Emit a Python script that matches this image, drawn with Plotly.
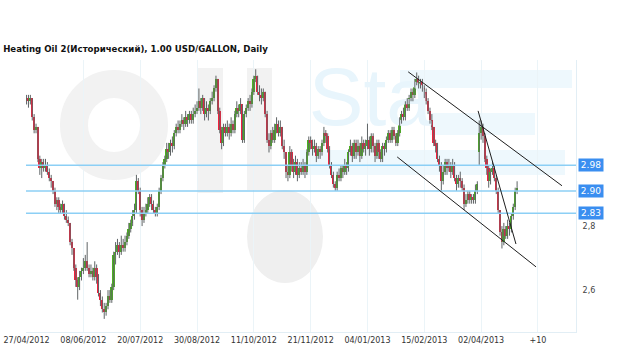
import plotly.graph_objects as go

TITLE = "Heating Oil 2(Исторический), 1.00 USD/GALLON, Daily"
TICK_POS = [0, 30, 60, 90, 120, 150, 180, 210, 240, 270]
TICK_LABELS = ["27/04/2012", "08/06/2012", "20/07/2012", "30/08/2012", "11/10/2012",
               "21/11/2012", "04/01/2013", "15/02/2013", "02/04/2013", "+10"]
Y_TICKS = [2.6, 2.8]
Y_TICK_LABELS = ["2,6", "2,8"]

OPEN = [3.18,3.19,3.18,3.19,3.13,3.09,3.10,3.00,2.97,2.99,
        2.97,2.98,2.96,2.94,2.93,2.90,2.86,2.87,2.85,2.84,
        2.86,2.82,2.81,2.80,2.74,2.72,2.66,2.62,2.60,2.63,
        2.65,2.66,2.68,2.66,2.64,2.65,2.63,2.66,2.63,2.58,
        2.56,2.53,2.52,2.54,2.57,2.56,2.60,2.70,2.71,2.73,
        2.71,2.73,2.72,2.74,2.76,2.78,2.80,2.82,2.84,2.93,
        2.90,2.84,2.81,2.83,2.84,2.86,2.88,2.86,2.84,2.83,
        2.85,2.90,2.94,2.98,3.00,3.03,3.02,3.05,3.04,3.08,
        3.10,3.09,3.11,3.12,3.11,3.13,3.12,3.14,3.12,3.14,
        3.15,3.16,3.18,3.16,3.19,3.14,3.16,3.15,3.18,3.19,
        3.22,3.25,3.15,3.09,3.05,3.10,3.08,3.10,3.08,3.11,
        3.09,3.14,3.16,3.15,3.17,3.06,3.14,3.16,3.18,3.17,
        3.21,3.25,3.26,3.21,3.20,3.19,3.21,3.14,3.06,3.04,
        3.08,3.06,3.09,3.11,3.08,3.10,3.04,3.02,2.96,2.95,
        3.02,2.98,2.96,2.99,2.95,2.97,2.96,2.98,2.96,3.02,
        3.06,3.05,3.03,3.04,3.01,3.03,3.02,3.05,3.08,3.07,
        3.03,2.98,2.95,2.92,2.91,2.95,2.94,2.97,2.96,2.98,
        2.97,3.02,3.04,3.01,3.05,3.02,3.04,3.01,3.05,3.03,
        3.04,3.06,3.03,3.07,3.04,3.01,3.05,3.02,3.00,3.04,
        3.03,3.06,3.08,3.06,3.09,3.07,3.05,3.08,3.12,3.14,
        3.13,3.17,3.16,3.19,3.21,3.20,3.24,3.25,3.23,3.24,
        3.22,3.21,3.18,3.15,3.12,3.10,3.05,3.04,3.00,2.98,
        2.93,2.96,2.99,2.97,2.98,2.96,2.98,2.94,2.92,2.94,
        2.93,2.91,2.86,2.87,2.89,2.87,2.88,2.87,2.90,3.02,
        3.08,3.10,3.07,3.00,2.97,2.93,2.96,2.97,2.94,2.90,
        2.84,2.77,2.74,2.78,2.76,2.79,2.78,2.82,2.85,2.90]

CLOSE = [3.19,3.18,3.19,3.13,3.09,3.10,3.00,2.97,2.99,2.97,
         2.98,2.96,2.94,2.93,2.90,2.86,2.87,2.85,2.84,2.86,
         2.82,2.81,2.80,2.74,2.72,2.66,2.62,2.60,2.63,2.65,
         2.66,2.68,2.66,2.64,2.65,2.63,2.66,2.63,2.58,2.56,
         2.53,2.52,2.54,2.57,2.56,2.60,2.70,2.71,2.73,2.71,
         2.73,2.72,2.74,2.76,2.78,2.80,2.82,2.84,2.93,2.90,
         2.84,2.81,2.83,2.84,2.86,2.88,2.86,2.84,2.83,2.85,
         2.90,2.94,2.98,3.00,3.03,3.02,3.05,3.04,3.08,3.10,
         3.09,3.11,3.12,3.11,3.13,3.12,3.14,3.12,3.14,3.15,
         3.16,3.18,3.16,3.19,3.14,3.16,3.15,3.18,3.19,3.22,
         3.25,3.15,3.09,3.05,3.10,3.08,3.10,3.08,3.11,3.09,
         3.14,3.16,3.15,3.17,3.06,3.14,3.16,3.18,3.17,3.21,
         3.25,3.26,3.21,3.20,3.19,3.21,3.14,3.06,3.04,3.08,
         3.06,3.09,3.11,3.08,3.10,3.04,3.02,2.96,2.95,3.02,
         2.98,2.96,2.99,2.95,2.97,2.96,2.98,2.96,3.02,3.06,
         3.05,3.03,3.04,3.01,3.03,3.02,3.05,3.08,3.07,3.03,
         2.98,2.95,2.92,2.91,2.95,2.94,2.97,2.96,2.98,2.97,
         3.02,3.04,3.01,3.05,3.02,3.04,3.01,3.05,3.03,3.04,
         3.06,3.03,3.07,3.04,3.01,3.05,3.02,3.00,3.04,3.03,
         3.06,3.08,3.06,3.09,3.07,3.05,3.08,3.12,3.14,3.13,
         3.17,3.16,3.19,3.21,3.20,3.24,3.25,3.23,3.24,3.22,
         3.21,3.18,3.15,3.12,3.10,3.05,3.04,3.00,2.98,2.93,
         2.96,2.99,2.97,2.98,2.96,2.98,2.94,2.92,2.94,2.93,
         2.91,2.86,2.87,2.89,2.87,2.88,2.87,2.90,2.92,3.08,
         3.10,3.07,3.00,2.97,2.93,2.96,2.97,2.94,2.90,2.84,
         2.77,2.74,2.78,2.76,2.79,2.78,2.82,2.85,2.90,2.91]

HIGH = [3.20,3.20,3.20,3.19,3.14,3.11,3.10,3.01,3.00,3.00,
        3.00,2.99,2.97,2.95,2.93,2.91,2.88,2.88,2.86,2.87,
        2.86,2.84,2.82,2.80,2.75,2.72,2.67,2.63,2.65,2.66,
        2.69,2.70,2.74,2.67,2.67,2.66,2.68,2.67,2.64,2.59,
        2.57,2.55,2.55,2.59,2.59,2.61,2.71,2.74,2.75,2.74,
        2.76,2.75,2.76,2.77,2.80,2.81,2.84,2.86,2.95,2.94,
        2.91,2.85,2.85,2.86,2.88,2.89,2.89,2.87,2.85,2.86,
        2.91,2.95,2.99,3.01,3.05,3.05,3.06,3.07,3.09,3.11,
        3.12,3.12,3.14,3.13,3.15,3.14,3.15,3.15,3.16,3.17,
        3.18,3.22,3.19,3.20,3.19,3.18,3.17,3.19,3.21,3.23,
        3.26,3.25,3.16,3.10,3.11,3.11,3.12,3.11,3.13,3.12,
        3.15,3.18,3.17,3.19,3.17,3.15,3.17,3.19,3.20,3.22,
        3.26,3.28,3.26,3.23,3.22,3.22,3.21,3.15,3.08,3.09,
        3.10,3.11,3.13,3.12,3.12,3.10,3.06,3.02,2.98,3.04,
        3.03,3.00,3.01,3.00,2.99,2.99,3.00,2.99,3.03,3.07,
        3.07,3.06,3.06,3.05,3.04,3.04,3.06,3.10,3.09,3.08,
        3.04,2.99,2.96,2.93,2.96,2.97,2.98,2.98,3.00,2.99,
        3.03,3.06,3.05,3.06,3.06,3.06,3.05,3.07,3.06,3.06,
        3.11,3.07,3.08,3.08,3.05,3.06,3.06,3.03,3.05,3.05,
        3.07,3.09,3.09,3.10,3.10,3.08,3.09,3.13,3.15,3.16,
        3.18,3.19,3.20,3.22,3.22,3.25,3.27,3.26,3.25,3.25,
        3.23,3.22,3.19,3.16,3.14,3.10,3.06,3.05,3.01,2.99,
        2.98,3.00,3.00,3.00,2.99,3.00,2.99,2.95,2.95,2.96,
        2.94,2.92,2.89,2.90,2.90,2.89,2.89,2.92,2.93,3.12,
        3.12,3.11,3.08,3.01,2.98,2.97,2.99,2.98,2.95,2.91,
        2.84,2.79,2.80,2.79,2.81,2.80,2.83,2.86,2.91,2.93]

LOW = [3.17,3.16,3.17,3.12,3.08,3.08,2.99,2.95,2.94,2.96,
       2.96,2.95,2.93,2.91,2.89,2.85,2.84,2.83,2.83,2.83,
       2.81,2.80,2.79,2.73,2.70,2.65,2.60,2.56,2.59,2.62,
       2.64,2.65,2.65,2.63,2.63,2.62,2.62,2.61,2.57,2.54,
       2.52,2.50,2.51,2.53,2.55,2.55,2.59,2.67,2.70,2.69,
       2.70,2.71,2.71,2.73,2.75,2.77,2.79,2.81,2.83,2.89,
       2.82,2.79,2.80,2.82,2.83,2.85,2.84,2.83,2.82,2.82,
       2.84,2.89,2.93,2.97,2.99,3.00,3.01,3.02,3.03,3.07,
       3.08,3.08,3.10,3.09,3.10,3.10,3.11,3.11,3.11,3.13,
       3.14,3.15,3.14,3.15,3.12,3.13,3.12,3.14,3.17,3.18,
       3.21,3.14,3.08,3.03,3.04,3.07,3.07,3.06,3.07,3.08,
       3.08,3.13,3.13,3.14,3.05,3.05,3.13,3.15,3.15,3.16,
       3.20,3.24,3.20,3.18,3.17,3.18,3.13,3.05,3.02,3.03,
       3.05,3.05,3.08,3.07,3.07,3.03,3.00,2.94,2.93,2.94,
       2.96,2.94,2.95,2.93,2.94,2.95,2.95,2.94,2.95,3.01,
       3.03,3.01,3.02,2.99,3.00,3.00,3.01,3.04,3.05,3.02,
       2.97,2.94,2.91,2.90,2.90,2.93,2.93,2.94,2.95,2.95,
       2.96,3.01,2.99,3.00,3.00,3.01,2.99,3.00,3.02,3.01,
       3.03,3.01,3.02,3.02,2.99,3.00,3.00,2.99,2.99,3.01,
       3.02,3.05,3.05,3.05,3.06,3.04,3.04,3.07,3.11,3.12,
       3.12,3.15,3.15,3.18,3.18,3.19,3.23,3.22,3.22,3.21,
       3.19,3.17,3.14,3.11,3.09,3.04,3.02,2.99,2.96,2.90,
       2.92,2.95,2.95,2.96,2.94,2.95,2.93,2.90,2.91,2.91,
       2.90,2.84,2.85,2.86,2.86,2.86,2.86,2.86,2.89,2.98,
       3.06,3.05,2.99,2.95,2.91,2.92,2.95,2.93,2.89,2.83,
       2.76,2.72,2.73,2.75,2.75,2.76,2.77,2.81,2.84,2.89]

LEVELS = [2.98, 2.90, 2.83]
LEVEL_LABELS = ["2.98", "2.90", "2.83"]
# trend lines: ((bar index, price), (bar index, price))
TRENDLINES = [((201.5, 3.272), (282.7, 2.916)),
              ((195.7, 3.006), (269.0, 2.6625)),
              ((238.4, 3.150), (258.4, 2.734))]

W, H = 628, 353
ML, MR, MT, MB = 26, 52, 60, 21
PW, PH = W - ML - MR, H - MT - MB


def px(x):
    return (x - ML) / PW


def py(y):
    return (H - MB - y) / PH


idx = list(range(len(CLOSE)))
wick_x, wick_y = [], []
for i in idx:
    wick_x += [i, i, None]
    wick_y += [LOW[i], HIGH[i], None]

base = [min(o, c) for o, c in zip(OPEN, CLOSE)]
body = [max(abs(c - o), 0.004) for o, c in zip(OPEN, CLOSE)]
colors = ["#4cb21f" if c > o else ("#f2203c" if c < o else "#808080")
          for o, c in zip(OPEN, CLOSE)]

fig = go.Figure()

# faint watermark text (drawn in the data layer, beneath the bars)
fig.add_trace(go.Scatter(x=[181.5], y=[3.17], mode="text", text=["Sta"],
                         textfont=dict(family="Liberation Sans", size=82, color="#e8f5fc"),
                         hoverinfo="skip", showlegend=False))

fig.add_trace(go.Scatter(x=wick_x, y=wick_y, mode="lines",
                         line=dict(color="#5f6466", width=1),
                         hoverinfo="skip", showlegend=False))
fig.add_trace(go.Bar(x=idx, y=body, base=base, width=0.9,
                     marker=dict(color=colors, line=dict(width=0)),
                     showlegend=False))

shapes = []
# watermark logo pieces
wm_gray = "#f2f2f2"
wm_blue = "#eef8fd"
for (x0, y0, x1, y1) in [(400, 70, 572, 88), (430, 113, 535, 135), (300, 150, 565, 175)]:
    shapes.append(dict(type="rect", xref="paper", yref="paper", x0=px(x0), x1=px(x1),
                       y0=py(y1), y1=py(y0), fillcolor=wm_blue, line=dict(width=0), layer="below"))
shapes.append(dict(type="circle", xref="paper", yref="paper", x0=px(74), x1=px(154),
                   y0=py(166), y1=py(84), line=dict(color=wm_gray, width=28), layer="below"))
for (x0, y0, x1, y1) in [(197, 68, 223, 193), (247, 68, 272, 190)]:
    shapes.append(dict(type="rect", xref="paper", yref="paper", x0=px(x0), x1=px(x1),
                       y0=py(y1), y1=py(y0), fillcolor=wm_gray, line=dict(width=0), layer="below"))
shapes.append(dict(type="circle", xref="paper", yref="paper", x0=px(247), x1=px(323),
                   y0=py(283), y1=py(190), fillcolor="#efefef", line=dict(width=0), layer="below"))

for lv in LEVELS:
    shapes.append(dict(type="line", xref="paper", yref="y", x0=0, x1=1, y0=lv, y1=lv,
                       line=dict(color="#8ccff5", width=1.5)))
for (a, b) in TRENDLINES:
    shapes.append(dict(type="line", xref="x", yref="y", x0=a[0], y0=a[1], x1=b[0], y1=b[1],
                       line=dict(color="#1e1e1e", width=1)))

annotations = []
for lv, lab in zip(LEVELS, LEVEL_LABELS):
    annotations.append(dict(x=1, xref="paper", y=lv, yref="y", xanchor="left", yanchor="middle",
                            xshift=2, text=lab, showarrow=False, bgcolor="#3a8ef0",
                            font=dict(family="DejaVu Sans", size=9, color="white"),
                            width=22, height=10, borderpad=1))

fig.update_layout(
    width=W, height=H,
    margin=dict(l=ML, r=MR, t=MT, b=MB, autoexpand=False),
    paper_bgcolor="white", plot_bgcolor="white",
    title=dict(text="<b>" + TITLE + "</b>", x=0.005, xref="container", xanchor="left",
               y=1 - 49 / H, yref="container", yanchor="middle",
               font=dict(family="DejaVu Sans", size=8.6, color="#111111")),
    shapes=shapes, annotations=annotations,
    bargap=0, showlegend=False,
    xaxis=dict(range=[-0.3, 290.1], tickvals=TICK_POS, ticktext=TICK_LABELS,
               showgrid=True, gridcolor="#ebf4f8", gridwidth=1, zeroline=False,
               showline=True, linecolor="#e2eef5", ticks="", automargin=False,
               tickfont=dict(family="DejaVu Sans", size=8, color="#333333")),
    yaxis=dict(side="right", range=[2.459, 3.309], tickvals=Y_TICKS, ticktext=Y_TICK_LABELS,
               showgrid=False, zeroline=False, showline=True, linecolor="#e2eef5", ticks="",
               automargin=False, ticklabelstandoff=4, ticklabelshift=3,
               tickfont=dict(family="DejaVu Sans", size=8, color="#444444")),
)

fig.write_html("out.html")
